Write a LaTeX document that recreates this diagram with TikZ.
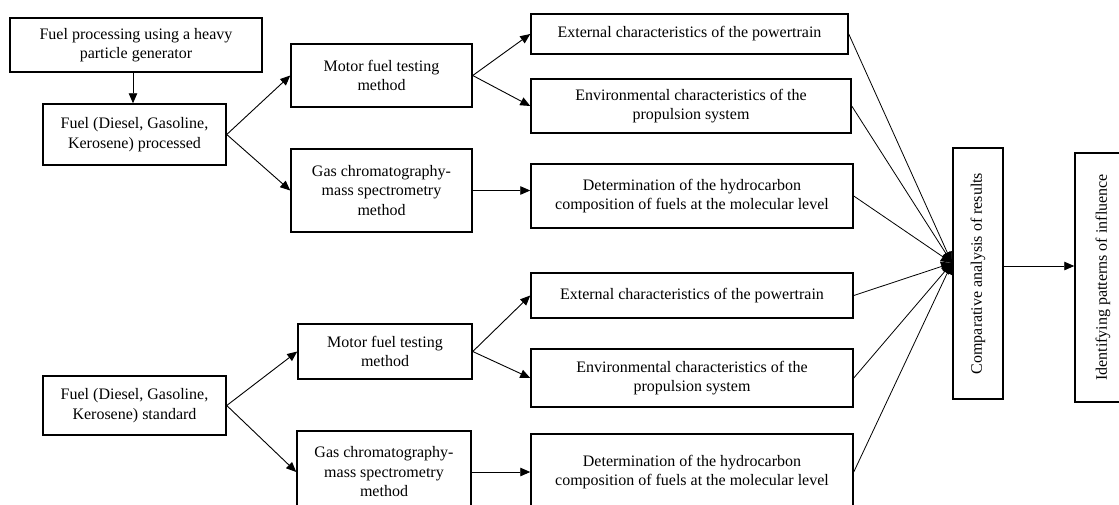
\documentclass[tikz,border=0pt]{standalone}
\usepackage{fontspec}
\setmainfont{Liberation Serif}
\usetikzlibrary{arrows.meta,calc}
\begin{document}
\begin{tikzpicture}[x=1pt,y=-1pt,
  box/.style={draw=black,line width=1.5pt,align=center,inner sep=0pt,
    font=\fontsize{16}{19.5}\selectfont},
  conn/.style={line width=0.9pt,-{Triangle[length=10pt,width=8.5pt]}},
  fan/.style={line width=0.8pt,-{Triangle[length=11pt,width=10pt]}},
]
\useasboundingbox (0,0) rectangle (1119,504);
\clip (0,0) rectangle (1119,504);
\fill[white] (0,0) rectangle (1119,504);

% upper branch
\node[box,minimum width=252pt,minimum height=54pt] (gen) at (136,45) {Fuel processing using a heavy\\particle generator};
\node[box,minimum width=183pt,minimum height=61pt] (proc) at (134.5,134.5) {Fuel (Diesel, Gasoline,\\Kerosene) processed};
\node[box,minimum width=181pt,minimum height=63pt] (mot1) at (381.5,75.5) {Motor fuel testing\\method};
\node[box,minimum width=181pt,minimum height=83pt] (gas1) at (381.5,190.5) {Gas chromatography-\\mass spectrometry\\method};
\node[box,minimum width=317pt,minimum height=40pt] (ext1) at (689.5,34) {External characteristics of the powertrain};
\node[box,minimum width=320pt,minimum height=54pt] (env1) at (691,106) {Environmental characteristics of the\\propulsion system};
\node[box,minimum width=322pt,minimum height=64pt] (det1) at (692,196) {Determination of the hydrocarbon\\composition of fuels at the molecular level};

% lower branch
\node[box,minimum width=183pt,minimum height=59pt] (std) at (134.5,405.5) {Fuel (Diesel, Gasoline,\\Kerosene) standard};
\node[box,minimum width=174pt,minimum height=55pt] (mot2) at (385,351.5) {Motor fuel testing\\method};
\node[box,minimum width=174pt,minimum height=82pt] (gas2) at (384,472) {Gas chromatography-\\mass spectrometry\\method};
\node[box,minimum width=322pt,minimum height=45pt] (ext2) at (692,295.5) {External characteristics of the powertrain};
\node[box,minimum width=322pt,minimum height=58pt] (env2) at (692,378) {Environmental characteristics of the\\propulsion system};
\node[box,minimum width=322pt,minimum height=76pt] (det2) at (692,472) {Determination of the hydrocarbon\\composition of fuels at the molecular level};

% right column
\node[box,rotate=90,minimum width=251pt,minimum height=50pt] (cmp) at (978,273.5) {Comparative analysis of results};
\node[box,rotate=90,minimum width=249pt,minimum height=56pt] (idf) at (1103,277.5) {Identifying patterns of influence};

\coordinate (hub) at (952,263);
\coordinate (lvl) at (0,266);

% connectors
\draw[conn] (gen.south -| 133,0) -- (proc.north -| 133,0);
\draw[conn] (proc.east) -- (mot1.west);
\draw[conn] (proc.east) -- (gas1.west);
\draw[conn] (mot1.east) -- (ext1.west);
\draw[conn] (mot1.east) -- (env1.west);
\draw[conn] (gas1.east) -- (gas1.east -| det1.west);

\draw[conn] (std.east) -- (mot2.west);
\draw[conn] (std.east) -- (gas2.west);
\draw[conn] (mot2.east) -- (ext2.west);
\draw[conn] (mot2.east) -- (env2.west);
\draw[conn] (gas2.east) -- (gas2.east -| det2.west);

\draw[fan] (ext1.east) -- (hub);
\draw[fan] (env1.east) -- (hub);
\draw[fan] (det1.east) -- (hub);
\draw[fan] (ext2.east) -- (hub);
\draw[fan] (env2.east) -- (hub);
\draw[fan] (det2.east) -- (hub);

\draw[conn] (cmp.south |- lvl) -- (idf.north |- lvl);
\end{tikzpicture}
\end{document}
